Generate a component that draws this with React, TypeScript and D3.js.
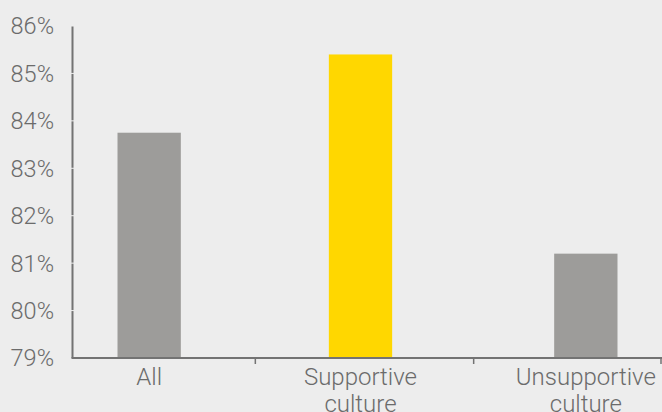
import React, { useEffect } from "react";
import * as d3 from "d3";

const categories: string[][] = [["All"], ["Supportive", "culture"], ["Unsupportive", "culture"]];
const values: number[] = [83.75, 85.4, 81.2];
const barColors: string[] = ["#9d9c9a", "#ffd700", "#9d9c9a"];
const yTicks: number[] = [79, 80, 81, 82, 83, 84, 85, 86];

const W = 662;
const H = 412;
const BG = "#ededed";
const AXIS = "#737373";
const TEXT = "#6b6b6b";
const FONT = "Roboto, 'Open Sans', sans-serif";

export default function App() {
  useEffect(() => {
    document.body.style.margin = "0";
    document.body.style.background = BG;
  }, []);

  const keys = categories.map((c) => c.join(" "));
  const x = d3.scaleBand<string>().domain(keys).range([40, 695]).paddingInner(0).paddingOuter(0);
  const y = d3.scaleLinear().domain([79, 86]).range([358, 26]);
  const barW = x.bandwidth() * 0.29;
  const axisLeft = 72.5;
  const axisBottom = y(79);

  const boundaries = keys.slice(1).map((k) => x(k)! - 3);
  boundaries.push(W - 1);

  return (
    <svg width={W} height={H} style={{ display: "block", background: BG }}>
      <rect x={0} y={0} width={W} height={H} fill={BG} />
      {values.map((v, i) => {
        const cx = x(keys[i])! + x.bandwidth() / 2 - (i === 1 ? 7 : 0);
        return (
          <rect
            key={i}
            x={cx - barW / 2}
            y={y(v)}
            width={barW}
            height={axisBottom - y(v)}
            fill={barColors[i]}
          />
        );
      })}
      {/* y axis */}
      <line x1={axisLeft} x2={axisLeft} y1={y(86)} y2={axisBottom} stroke={AXIS} strokeWidth={2} />
      {yTicks.slice(1).map((t) => (
        <line key={"g" + t} x1={axisLeft - 2} x2={axisLeft + 3} y1={y(t)} y2={y(t)} stroke={BG} strokeWidth={1} />
      ))}
      {yTicks.map((t) => (
        <text
          key={t}
          x={54}
          y={y(t)}
          dy="0.36em"
          textAnchor="end"
          fontFamily={FONT}
          fontWeight={300}
          fontSize={23.5}
          fill={TEXT}
        >
          {t}%
        </text>
      ))}
      {/* x axis */}
      <line x1={axisLeft - 1} x2={W} y1={axisBottom} y2={axisBottom} stroke={AXIS} strokeWidth={2} />
      {boundaries.map((b, i) => (
        <line key={"t" + i} x1={b} x2={b} y1={axisBottom} y2={axisBottom + 6} stroke={AXIS} strokeWidth={1.5} />
      ))}
      {categories.map((lines, i) => {
        const cx = x(keys[i])! + x.bandwidth() / 2 - (i === 1 ? 7 : 0);
        return (
          <text key={i} textAnchor="middle" fontFamily={FONT} fontWeight={300} fontSize={24} fill={TEXT}>
            {lines.map((l, j) => (
              <tspan key={j} x={cx} y={385 + j * 27}>
                {l}
              </tspan>
            ))}
          </text>
        );
      })}
    </svg>
  );
}
